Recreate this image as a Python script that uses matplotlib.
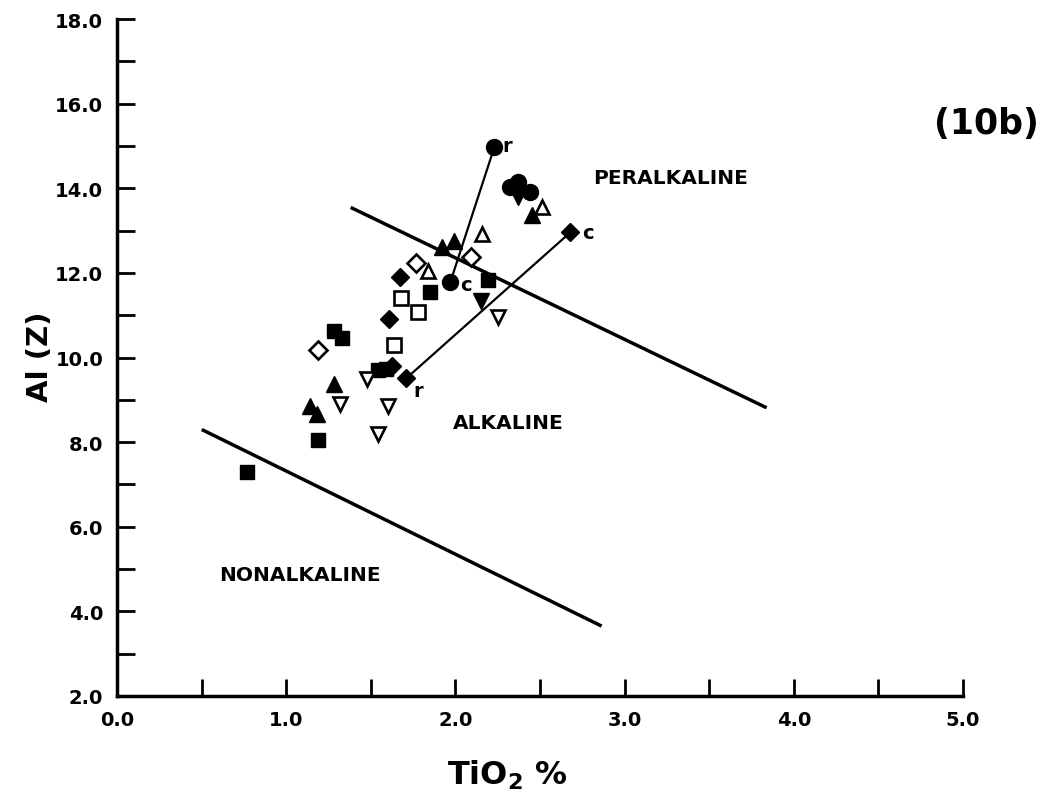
import matplotlib
matplotlib.use("Agg")
import matplotlib.pyplot as plt
from matplotlib.ticker import FixedLocator

plt.rcParams['font.family'] = ['DejaVu Sans']
plt.rcParams['font.weight'] = 'bold'
plt.rcParams['mathtext.default'] = 'bf'

# --- data (TiO2 %, Al(Z)) ---
sq_fill_x = [0.77, 1.19, 1.28, 1.33, 1.54, 1.59, 1.85, 2.19]
sq_fill_y = [7.29, 8.05, 10.62, 10.46, 9.70, 9.73, 11.55, 11.83]

sq_open_x = [1.68, 1.78, 1.64]
sq_open_y = [11.40, 11.07, 10.29]

dia_fill_x = [1.61, 1.67, 1.625]
dia_fill_y = [10.91, 11.90, 9.80]

dia_open_x = [1.19, 1.77, 2.09]
dia_open_y = [10.17, 12.23, 12.37]

tri_fill_x = [1.14, 1.18, 1.28, 1.92, 1.99, 2.45]
tri_fill_y = [8.85, 8.66, 9.37, 12.61, 12.75, 13.37]

tri_open_x = [1.84, 2.16, 2.51]
tri_open_y = [12.04, 12.92, 13.56]

dtri_fill_x = [2.15, 2.37]
dtri_fill_y = [11.33, 13.79]

dtri_open_x = [1.48, 1.32, 1.60, 1.54, 2.25]
dtri_open_y = [9.49, 8.90, 8.85, 8.19, 10.95]

circ_x = [2.32, 2.37, 2.44]
circ_y = [14.03, 14.15, 13.91]

# rim (r) - core (c) pairs
circ_rc_x = [2.23, 1.97]
circ_rc_y = [14.97, 11.78]
dia_rc_x = [1.71, 2.68]
dia_rc_y = [9.51, 12.96]

# field boundaries
lower_x = [0.51, 2.855]
lower_y = [8.28, 3.67]
upper_x = [1.39, 3.83]
upper_y = [13.53, 8.83]

xticks = [0, 1, 2, 3, 4, 5]
xticklabels = ['0.0', '1.0', '2.0', '3.0', '4.0', '5.0']
yticks = [2, 4, 6, 8, 10, 12, 14, 16, 18]
yticklabels = ['2.0', '4.0', '6.0', '8.0', '10.0', '12.0', '14.0', '16.0', '18.0']

fig = plt.figure(figsize=(10.61, 8.04), dpi=100)
ax = fig.add_axes([0.1103, 0.1331, 0.7973, 0.842])

ax.plot(lower_x, lower_y, color='black', lw=2.5)
ax.plot(upper_x, upper_y, color='black', lw=2.5)
ax.plot(circ_rc_x, circ_rc_y, color='black', lw=1.6)
ax.plot(dia_rc_x, dia_rc_y, color='black', lw=1.6)

filled = dict(linestyle='none', color='black', markeredgecolor='black')
hollow = dict(linestyle='none', markerfacecolor='white', markeredgecolor='black',
              markeredgewidth=1.9)

ax.plot(sq_fill_x, sq_fill_y, 's', ms=10.5, **filled)
ax.plot(sq_open_x, sq_open_y, 's', ms=10, **hollow)
ax.plot(dia_fill_x + dia_rc_x, dia_fill_y + dia_rc_y, 'D', ms=9.5, **filled)
ax.plot(dia_open_x, dia_open_y, 'D', ms=9, **hollow)
ax.plot(tri_fill_x, tri_fill_y, '^', ms=11.5, **filled)
ax.plot(tri_open_x, tri_open_y, '^', ms=10.5, **hollow)
ax.plot(dtri_fill_x, dtri_fill_y, 'v', ms=11.5, **filled)
ax.plot(dtri_open_x, dtri_open_y, 'v', ms=10.5, **hollow)
ax.plot(circ_x + circ_rc_x, circ_y + circ_rc_y, 'o', ms=11.5, **filled)

lab = dict(fontsize=14, fontweight='bold')
ax.text(circ_rc_x[0] + 0.05, circ_rc_y[0] + 0.03, 'r', va='center', ha='left', **lab)
ax.text(circ_rc_x[1] + 0.06, circ_rc_y[1] - 0.05, 'c', va='center', ha='left', **lab)
ax.text(dia_rc_x[1] + 0.07, dia_rc_y[1], 'c', va='center', ha='left', **lab)
ax.text(dia_rc_x[0] + 0.04, dia_rc_y[0] - 0.28, 'r', va='center', ha='left', **lab)

zone = dict(ha='center', va='center', fontsize=14.5, fontweight='bold')
ax.text(3.27, 14.26, 'PERALKALINE', **zone)
ax.text(2.31, 8.47, 'ALKALINE', **zone)
ax.text(1.08, 4.86, 'NONALKALINE', **zone)

fig.text(0.930, 0.846, '(10b)', ha='center', va='center', fontsize=25, fontweight='bold')

ax.set_xlim(0, 5)
ax.set_ylim(2, 18)
ax.spines['top'].set_visible(False)
ax.spines['right'].set_visible(False)
ax.spines['left'].set_linewidth(2.5)
ax.spines['bottom'].set_linewidth(2.5)

ax.set_xticks(xticks)
ax.set_xticklabels(xticklabels)
ax.set_yticks(yticks)
ax.set_yticklabels(yticklabels)
ax.xaxis.set_minor_locator(FixedLocator([0.5, 1.5, 2.5, 3.5, 4.5]))
ax.yaxis.set_minor_locator(FixedLocator([3, 5, 7, 9, 11, 13, 15, 17]))

ax.tick_params(axis='x', which='both', direction='in', length=12, width=2,
               labelsize=14, pad=10)
ax.tick_params(axis='y', which='both', direction='in', length=13, width=2,
               labelsize=14, pad=10)
for t in ax.get_xticklabels() + ax.get_yticklabels():
    t.set_fontweight('bold')

ax.set_xlabel('TiO$_2$ %', fontsize=23, fontweight='bold')
ax.set_ylabel('Al (Z)', fontsize=21, fontweight='bold')
ax.xaxis.set_label_coords(0.461, -0.115)
ax.yaxis.set_label_coords(-0.091, 0.502)
ax.xaxis.label.set_va('center')
ax.yaxis.label.set_va('center')

fig.savefig('out.png', dpi=100)
